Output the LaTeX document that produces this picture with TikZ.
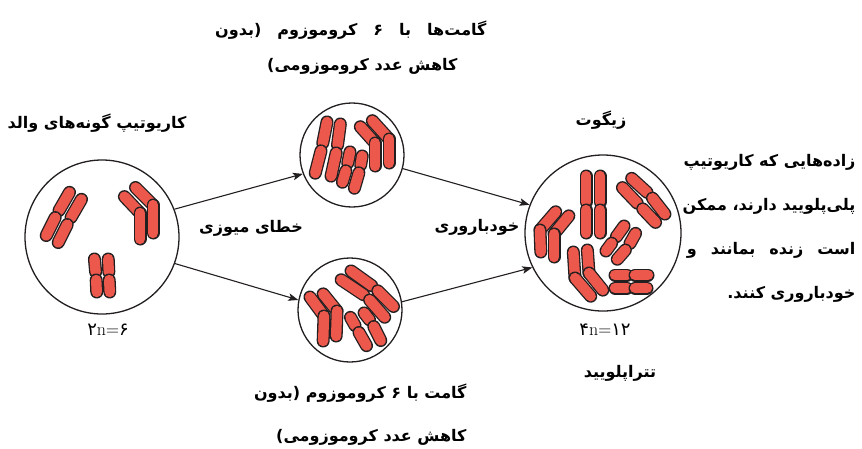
\documentclass[tikz,border=0pt]{standalone}
\usepackage{fontspec}
\usepackage{tikz}
\usetikzlibrary{arrows.meta,calc}
\newfontfamily\farsifont[Script=Arabic]{DejaVu Sans}
\TeXXeTstate=1
\definecolor{chromred}{RGB}{236,88,76}
\definecolor{ink}{RGB}{35,31,32}

\begin{document}
\begin{tikzpicture}[x=1pt,y=-1pt,
    cell/.style={circle,draw=ink,line width=1.3pt,inner sep=0pt},
    armout/.style={line width=13pt,line cap=round,draw=ink},
    armin/.style={line width=10.4pt,line cap=round,draw=chromred},
    link/.style={->,line width=1.1pt,draw=ink},
    fa/.style={font=\farsifont\bfseries\fontsize{16}{19}\selectfont},
    num/.style={font=\fontsize{18}{20}\selectfont},
    >={Stealth[length=10pt,width=7.5pt,inset=2.2pt]}]
    \useasboundingbox (0,0) rectangle (862,448);
    \node[cell,minimum size=154pt] (parent) at (102,237) {};
    \node[cell,minimum size=104pt] (gtop) at (352,155) {};
    \node[cell,minimum size=104pt] (gbot) at (350,310) {};
    \node[cell,minimum size=156pt] (zyg) at (603,233) {};
    \foreach \ax/\ay/\cx/\cy/\bx/\by/\g in {
        72/188/57/214/44/240/4pt, 84/195/69/221/56/247/4pt,
        121/193/140/213/140/244/0pt, 132/184/153/205/153/238/0pt,
        94/254/96/276/97/297/4pt, 108/254/109/276/110/297/4pt,
        328/117/322/147/314/178/4pt, 341/119/337/149/330/181/4pt,
        351/147/347/167/341/187/4pt, 363/151/360/169/353/193/4pt,
        357/123/375/143/375/171/0pt, 369/117/389/139/389/168/0pt,
        307/293/324/316/323/346/0pt, 320/290/337/311/336/341/0pt,
        337/277/367/297/388/321/4pt, 347/268/375/288/397/310/4pt,
        348/313/357/329/369/350/4pt, 361/309/372/323/383/345/4pt,
        559/208/540/230/541/257/0pt, 572/212/554/234/554/262/0pt,
        586/171/586/206/586/238/4pt, 600/171/600/206/600/238/4pt,
        619/184/640/206/659/226/4pt, 628/175/650/195/668/218/4pt,
        627/222/614/240/603/255/4pt, 638/229/628/247/614/263/4pt,
        573/247/575/278/594/300/0pt, 587/245/589/273/606/294/0pt,
        610/275/631/275/653/275/4pt, 610/288/631/288/652/288/4pt}{
        \draw[armout] ($(\ax,\ay)!5pt!(\cx,\cy)$) -- ($(\cx,\cy)!\g!(\ax,\ay)$);
        \draw[armin] ($(\ax,\ay)!5pt!(\cx,\cy)$) -- ($(\cx,\cy)!\g!(\ax,\ay)$);
        \draw[armout] ($(\cx,\cy)!\g!(\bx,\by)$) -- ($(\bx,\by)!5pt!(\cx,\cy)$);
        \draw[armin] ($(\cx,\cy)!\g!(\bx,\by)$) -- ($(\bx,\by)!5pt!(\cx,\cy)$);
    }
    \draw[link] (parent.21) -- (gtop.201);
    \draw[link] (parent.-20) -- (gbot.169);
    \draw[link] (gtop.-15) -- (zyg.159);
    \draw[link] (gbot.9) -- (zyg.206);
    \node[fa] (parentlab) at (97,123) {\beginR کاریوتیپ گونه‌های والد\endR};
    \node[fa] (meiosis) at (251,228) {\beginR خطای میوزی\endR};
    \node[num] (parentn) at (108,330) {{\farsifont ۲}n={\farsifont ۶}};
    \node[fa,anchor=east] (gtoplabA) at (490,30) {\spaceskip=16pt\beginR گامت‌ها با ۶ کروموزوم (بدون\endR};
    \node[fa,anchor=east] (gtoplabB) at (461,66) {\beginR کاهش عدد کروموزومی)\endR};
    \node[fa,anchor=east] (gbotlabA) at (470,393) {\beginR گامت با ۶ کروموزوم (بدون\endR};
    \node[fa,anchor=east] (gbotlabB) at (470,437) {\beginR کاهش عدد کروموزومی)\endR};
    \node[fa] (selfing) at (477,227) {\beginR خودباروری\endR};
    \node[fa] (zyglab) at (601,120) {\beginR زیگوت\endR};
    \node[num] (zygn) at (605,330) {{\farsifont ۴}n={\farsifont ۱۲}};
    \node[fa] (tetra) at (620,373) {\beginR تتراپلویید\endR};
    \node[fa,anchor=north east,align=right,font=\farsifont\bfseries\fontsize{16}{44}\selectfont] (note) at (859,151)
        {\beginR زاده‌هایی که کاریوتیپ\endR\\ \beginR پلی‌پلویید دارند، ممکن\endR\\
         {\spaceskip=14pt\beginR است زنده بمانند و\endR}\\ \beginR خودباروری کنند.\endR};
\end{tikzpicture}
\end{document}
